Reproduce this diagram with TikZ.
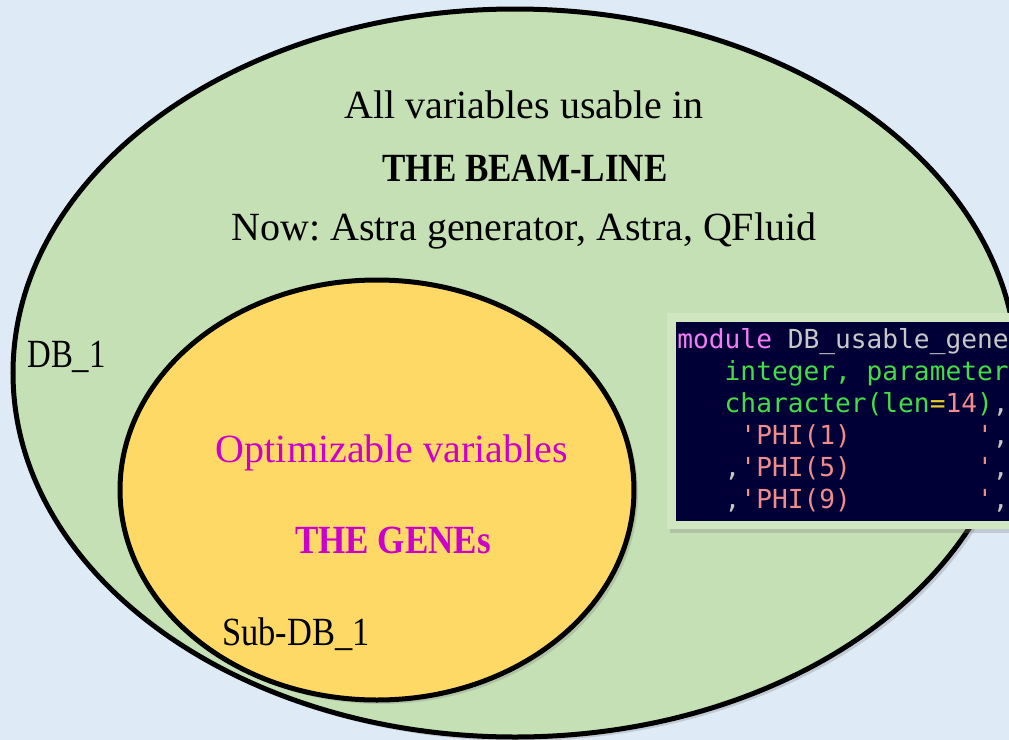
\documentclass[tikz,border=0pt]{standalone}
\usepackage{fontspec}
\setmainfont{Liberation Serif}
\newfontfamily\codefont{DejaVu Sans Mono}
\usepackage{xcolor}
\usetikzlibrary{shapes.geometric,shadows}
\definecolor{bgblue}{HTML}{DEEBF7}
\definecolor{setgreen}{HTML}{C5E0B4}
\definecolor{frmgreen}{HTML}{CFE6C1}
\definecolor{setyellow}{HTML}{FFD966}
\definecolor{genemag}{HTML}{CC00CC}
\definecolor{codenavy}{HTML}{000036}
\definecolor{cmag}{HTML}{F47CF4}
\definecolor{cgray}{HTML}{C8C8C8}
\definecolor{cgreen}{HTML}{44DD44}
\definecolor{csalmon}{HTML}{F08C8C}
\definecolor{cyell}{HTML}{E8D020}
\newcommand{\sq}{\textquotesingle}
\newcommand{\blanks}[1]{\phantom{#1}}
\frenchspacing

\begin{document}
\begin{tikzpicture}[x=0.5pt, y=-0.5pt,
  setline/.style={ellipse, draw=black, line width=2.5pt, inner sep=0pt,
    drop shadow={shadow xshift=2pt, shadow yshift=-2pt, opacity=0.3}},
  bigtext/.style={anchor=base, font=\fontsize{20}{24}\selectfont},
  boldtext/.style={anchor=base, xscale=0.875, font=\fontsize{20}{24}\selectfont\bfseries},
  dbtext/.style={anchor=base west, inner sep=0pt, xscale=0.82, font=\fontsize{20}{24}\selectfont},
  codeline/.style={anchor=base west, inner sep=0pt, font=\fontsize{13.1}{16}\codefont}]
  \useasboundingbox (0,0) rectangle (1009,740);
  \clip (0,0) rectangle (1009,740);
  \fill[bgblue] (0,0) rectangle (1009,740);
  \node[setline, fill=setgreen, minimum width=502pt, minimum height=364pt] (db) at (515,373) {};
  \fill[frmgreen, drop shadow={shadow xshift=1.5pt, shadow yshift=-2pt, opacity=0.3}] (667,313) rectangle (1020,529);
  \fill[codenavy] (676,322) rectangle (1020,521);
  \node[setline, fill=setyellow, minimum width=257pt, minimum height=210pt] (subdb) at (377,490) {};
  \node[bigtext] (usable) at (524,118) {All variables usable in};
  \node[boldtext] (beamline) at (525,181) {THE BEAM-LINE};
  \node[bigtext] (codes) at (524,240) {Now: Astra generator, Astra, QFluid};
  \node[dbtext] (dblabel) at (27,367) {DB\_1};
  \node[bigtext, text=genemag] (optim) at (392,462) {Optimizable variables};
  \node[boldtext, text=genemag] (genes) at (393,553) {THE GENEs};
  \node[dbtext, xscale=1.05] (sublabel) at (222,645) {Sub-DB\_1};
  \node[codeline] (l1) at (677,348) {\textcolor{cmag}{module} \textcolor{cgray}{DB\_usable\_gene}};
  \node[codeline] (l2) at (677,380) {\blanks{xxx}\textcolor{cgreen}{integer, parameter}};
  \node[codeline] (l3) at (677,412) {\blanks{xxx}\textcolor{cgreen}{character(len}\textcolor{cyell}{=}\textcolor{csalmon}{14}\textcolor{cgreen}{)}\textcolor{cgray}{,}};
  \node[codeline] (l4) at (677,444) {\blanks{xxxx}\textcolor{csalmon}{\sq PHI(1)\blanks{xxxxxxxx}\sq}\textcolor{cgray}{,}};
  \node[codeline] (l5) at (677,476) {\blanks{xxx}\textcolor{cgray}{,}\textcolor{csalmon}{\sq PHI(5)\blanks{xxxxxxxx}\sq}\textcolor{cgray}{,}};
  \node[codeline] (l6) at (677,508) {\blanks{xxx}\textcolor{cgray}{,}\textcolor{csalmon}{\sq PHI(9)\blanks{xxxxxxxx}\sq}\textcolor{cgray}{,}};
\end{tikzpicture}
\end{document}
